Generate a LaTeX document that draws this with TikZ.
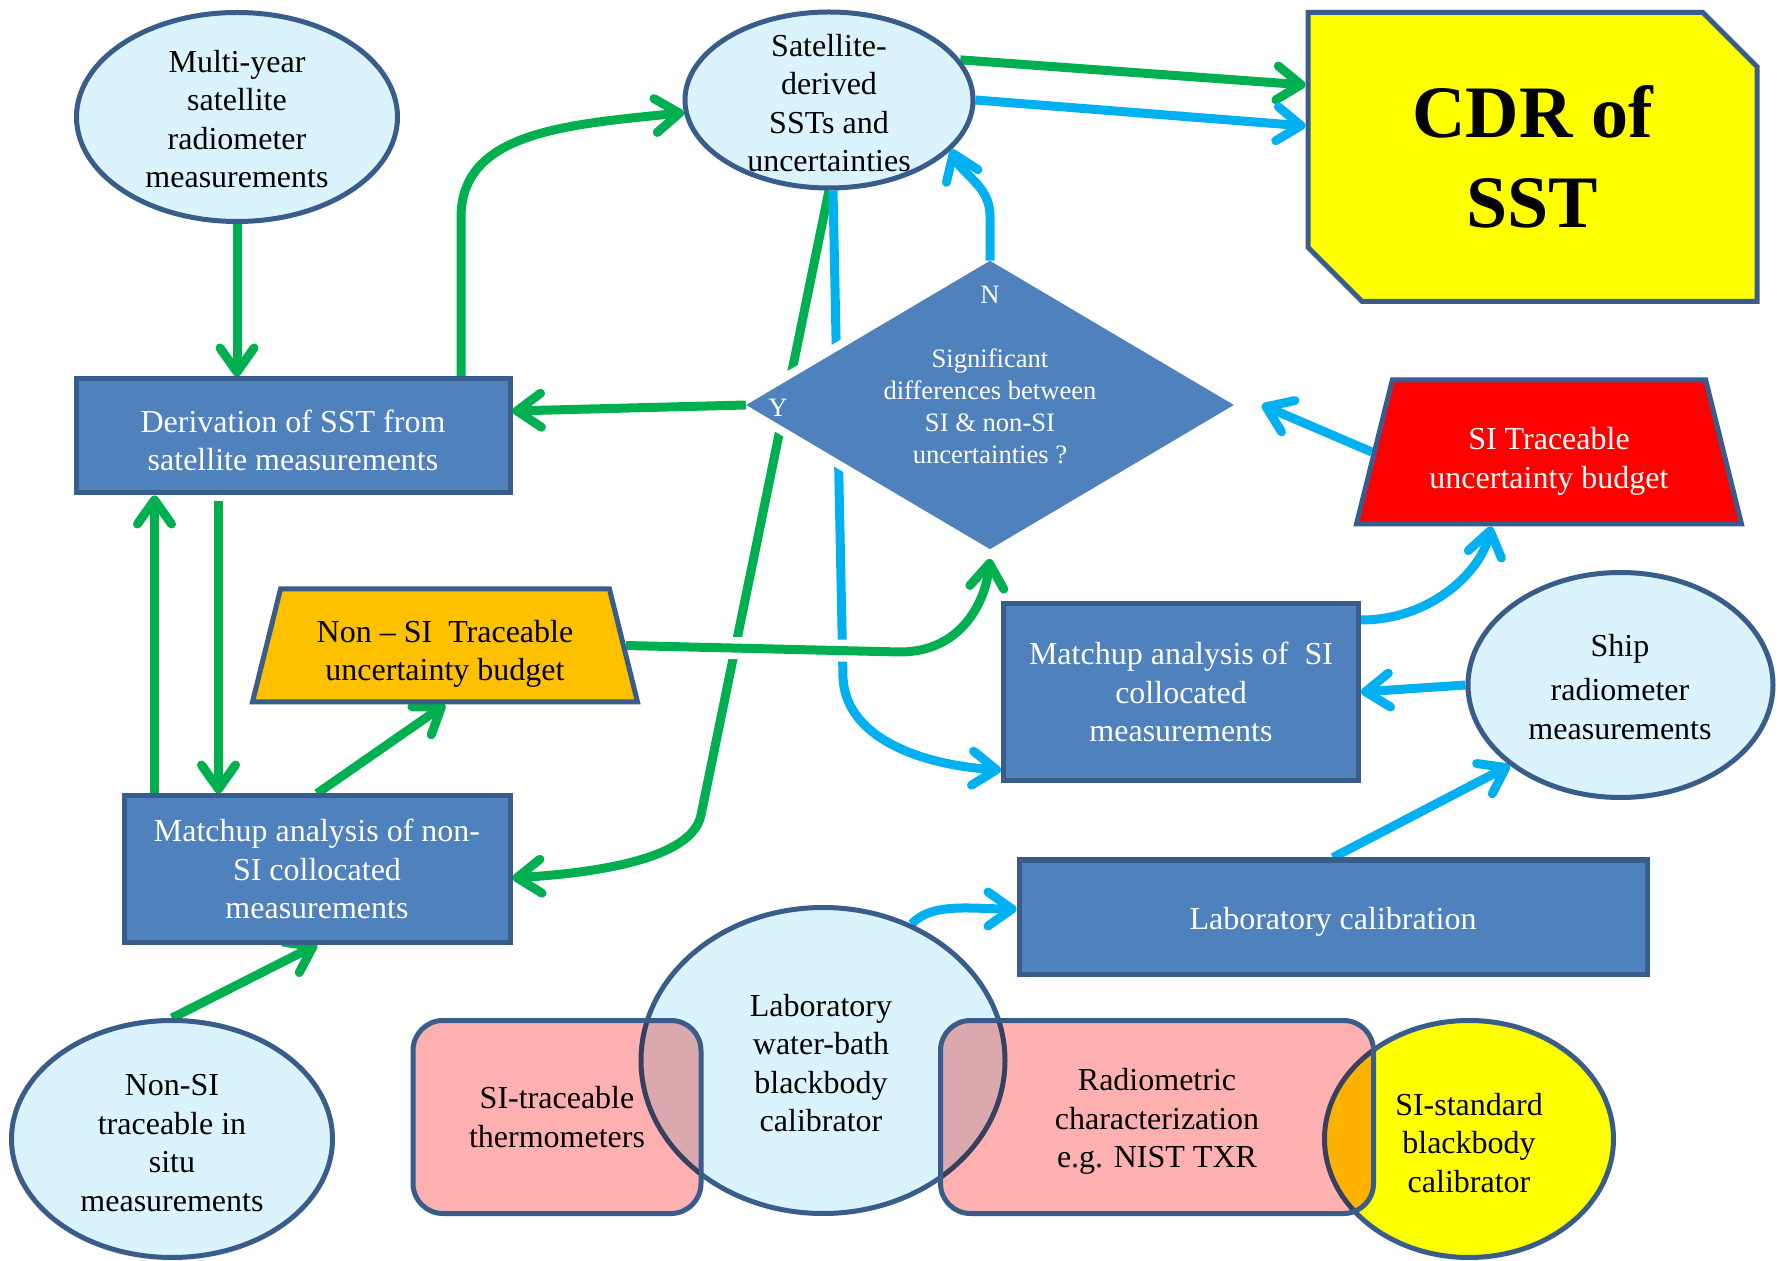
\documentclass[tikz,border=0pt]{standalone}
\usepackage{fontspec}
\setmainfont{Liberation Serif}
\usetikzlibrary{arrows.meta,shapes.geometric,shapes.misc,backgrounds}
\definecolor{cGreen}{HTML}{00B050}
\definecolor{cCyan}{HTML}{00B0F0}
\definecolor{cBox}{HTML}{4F81BD}
\definecolor{cEdge}{HTML}{385D8A}
\definecolor{cSky}{HTML}{DBF3FC}
\definecolor{cPink}{HTML}{FFB1B1}
\definecolor{cGold}{HTML}{FFC000}
\definecolor{cRed}{HTML}{FF0000}
\definecolor{cYellow}{HTML}{FFFF00}
\tikzset{
  bubble/.style={ellipse, draw=cEdge, line width=2.5pt, fill=#1, inner sep=0pt},
  bubble/.default=cSky,
  txt/.style={align=center, inner sep=0pt},
  box/.style={rectangle, draw=cEdge, line width=2.5pt, fill=cBox, text=white, align=center, inner sep=0pt},
  budget/.style={trapezium, trapezium left angle=76, trapezium right angle=76, trapezium stretches body, draw=cEdge, line width=2.5pt, fill=#1, align=center, inner xsep=0pt},
  pinkbox/.style={rectangle, rounded corners=15pt, draw=cEdge, line width=2.5pt, preaction={fill=cPink, blend mode=multiply}, align=center, inner sep=0pt},
  gflow/.style={-{Straight Barb[length=12pt, width=17pt, round]}, line width=4.5pt, draw=cGreen},
  cflow/.style={-{Straight Barb[length=12pt, width=17pt, round]}, line width=4.5pt, draw=cCyan},
  halo/.style={preaction={draw=white, line width=11pt, arrows=-}},
}
\begin{document}
\begin{tikzpicture}[x=0.5pt, y=-0.5pt, font=\fontsize{16}{19.3}\selectfont]
\useasboundingbox (0,0) rectangle (1779,1261);
\begin{scope}[on background layer]
  \fill[white] (0,0) rectangle (1779,1261);
\end{scope}
% top row
\node[bubble, minimum width=160.5pt, minimum height=104.5pt] (multi) at (237,117) {};
\node[txt] (multiT) at (237,119) {Multi-year\\satellite\\radiometer\\measurements};
\node[bubble, minimum width=144pt, minimum height=88pt] (sat) at (829,100) {};
\node[txt] (satT) at (829,103) {Satellite-\\derived\\SSTs and\\uncertainties};
\node[chamfered rectangle, chamfered rectangle corners={north east, south west}, chamfered rectangle xsep=24pt,
  draw=cEdge, line width=2.5pt, fill=cYellow, minimum width=224.5pt, minimum height=144.5pt, inner sep=0pt,
  align=center, font=\fontsize{37}{44.8}\selectfont\bfseries] (cdr) at (1532.5,157) {CDR of\\SST};
% middle
\node[box, minimum width=217pt, minimum height=57pt] (deriv) at (293,436) {\rule{0pt}{15.6pt}Derivation of SST from\\satellite measurements};
\node[diamond, aspect=1.7, fill=cBox, draw=white, line width=4pt, line join=round, outer sep=0pt, minimum width=252pt, minimum height=149pt, inner sep=0pt] (dia) at (990,405) {};
\node[txt, text=white, font=\fontsize{13.3}{16}\selectfont] (diaT) at (990,375) {N\\[16pt]Significant\\differences between\\SI \& non-SI\\uncertainties ?};
\node[txt, text=white, font=\fontsize{13.3}{16}\selectfont] (diaY) at (778,408) {Y};
\node[budget=cRed, text=white, inner ysep=14.2pt, minimum width=192.5pt, minimum height=72pt] (siT) at (1549,452) {\rule{0pt}{20.7pt}SI Traceable\\uncertainty budget};
\node[budget=cGold, inner ysep=7pt, minimum width=192.5pt, minimum height=56.5pt] (nonsi) at (445,645.5) {\rule{0pt}{19.5pt}Non -- SI\ \ Traceable\\uncertainty budget};
\node[box, minimum width=177.5pt, minimum height=88.5pt] (matchSI) at (1181,692) {Matchup analysis of\ \ SI\\collocated\\measurements};
\node[bubble, minimum width=152.5pt, minimum height=112.5pt] (ship) at (1620.5,685) {};
\node[txt] (shipT) at (1620,687) {Ship\\[2.8pt]radiometer\\measurements};
\node[box, minimum width=193pt, minimum height=73pt] (matchN) at (317,869) {Matchup analysis of non-\\SI collocated\\measurements};
\node[box, minimum width=314pt, minimum height=57pt] (labcal) at (1333,917) {\rule{0pt}{15.7pt}Laboratory calibration};
% bottom row
\node[bubble, minimum width=160.5pt, minimum height=118.5pt] (insitu) at (172,1139) {};
\node[txt] (insituT) at (172,1143) {Non-SI\\traceable in\\situ\\measurements};
\node[bubble, minimum width=182pt, minimum height=153pt] (water) at (823,1060.5) {};
\node[bubble=cYellow, minimum width=144.5pt, minimum height=118.5pt] (sistd) at (1469,1139) {};
\node[pinkbox, minimum width=144pt, minimum height=96.5pt] (therm) at (557,1117) {SI-traceable\\thermometers};
\node[pinkbox, minimum width=216.5pt, minimum height=96.5pt] (radio) at (1157,1117) {\rule{0pt}{15.7pt}Radiometric\\characterization\\e.g. NIST TXR};
\node[txt] (waterT) at (821,1063) {Laboratory\\water-bath\\blackbody\\calibrator};
\node[txt] (sistdT) at (1469,1143) {SI-standard\\blackbody\\calibrator};
% connectors
\begin{scope}[on background layer]
  \coordinate (upS) at ([xshift=40.5pt]deriv.south west);
  \coordinate (dnS) at ([xshift=72.5pt]deriv.south west);
  \coordinate (bend7) at (900,652);
  \coordinate (bend8) at (701,815);
  \coordinate (bend3) at (843,678);
  \draw[gflow] (multi.south) -- (multi.south |- deriv.north);
  \draw[gflow] ([xshift=84pt]deriv.north) -- ++(0,-159) .. controls +(0,-85) and +(-120,12) .. (sat.185);
  \draw[gflow] (upS |- matchN.north) -- (upS);
  \draw[gflow] ([yshift=-3pt]dnS) -- (dnS |- matchN.north);
  \draw[gflow] (matchN.north) -- (nonsi.south);
  \draw[gflow] (insitu.north) -- (matchN.south);
  \draw[gflow] (sat.17) -- ([yshift=36pt]cdr.west);
  \draw[gflow] (sat.south) -- (bend8) .. controls +(-9,45) and +(80,-5) .. ([yshift=-4.5pt]matchN.east);
  \draw[cflow] (sat.east) -- ([yshift=15.5pt]cdr.west);
  \draw[cflow] ([xshift=2pt]sat.south) -- (bend3) .. controls +(3,60) and +(-80,-5) .. ([yshift=-39pt]matchSI.west);
  \draw[cflow] ([yshift=36pt]matchSI.east) .. controls +(70,0) and +(-10,45) .. ([xshift=-29pt]siT.south);
  \draw[cflow] (siT.west) -- ([xshift=10pt]dia.east);
  \draw[cflow] (ship.west) -- (matchSI.east);
  \draw[cflow] (labcal.north) -- (ship.-144);
  \draw[cflow] (water.57) .. controls +(20,-22) and +(-45,0) .. ([yshift=4pt]labcal.west);
  \draw[gflow, halo] (nonsi.east) -- (bend7) .. controls +(60,0) and +(-5,45) .. ([yshift=-2.5pt]dia.south);
\end{scope}
% Y and N leave the decision from its corners
\draw[gflow] ([xshift=3.9pt]dia.west) -- ([yshift=12.5pt]deriv.east);
\draw[cflow] ([yshift=-2.3pt]dia.north) -- ++(0,-45) .. controls +(0,-30) and +(10,25) .. (sat.-22);
\end{tikzpicture}
\end{document}
